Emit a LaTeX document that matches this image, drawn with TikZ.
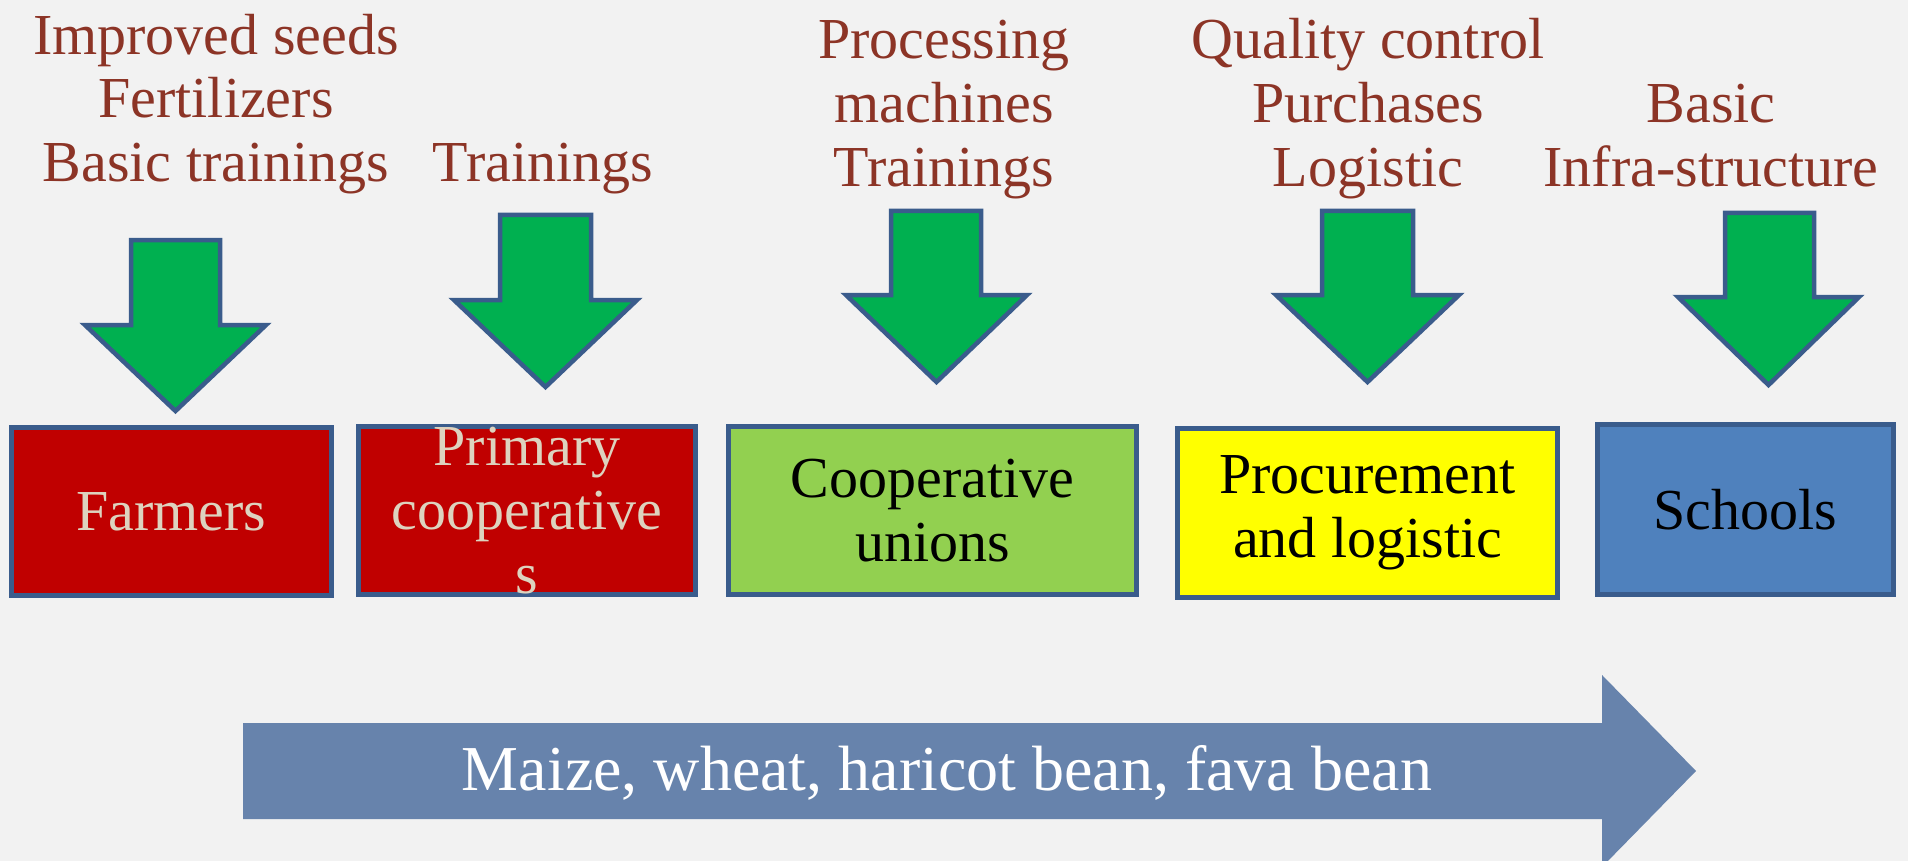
\documentclass[tikz,border=0pt]{standalone}
\usepackage{fontspec}
\setmainfont{Liberation Serif}
\definecolor{bg}{HTML}{F2F2F2}
\definecolor{brown}{HTML}{8C3426}
\definecolor{garrow}{HTML}{00B050}
\definecolor{edge}{HTML}{3A5C8C}
\definecolor{redbox}{HTML}{C00000}
\definecolor{beige}{HTML}{DDD3BF}
\definecolor{limebox}{HTML}{92D050}
\definecolor{yelbox}{HTML}{FFFF00}
\definecolor{bluebox}{HTML}{4F81BD}
\definecolor{flowblue}{HTML}{6783AC}
\newcommand\bigfont{\fontsize{58}{64}\selectfont}
\newcommand\flowfont{\fontsize{64}{70}\selectfont}
\newcommand\garrowpath[7]{% shaftL shaftR headL headR top shoulder tip
  \draw[greenarrow] (#1,#5) -- (#2,#5) -- (#2,#6) -- (#4,#6) -- ({(#3+#4)/2},#7) -- (#3,#6) -- (#1,#6) -- cycle;}
\tikzset{
  greenarrow/.style={fill=garrow,draw=edge,line width=4.5pt,line join=miter},
  stagebox/.style={draw=edge,line width=5pt,rectangle,inner sep=0pt,align=center,font=\bigfont},
  inputline/.style={anchor=base,inner sep=0pt,text=brown,font=\bigfont},
}
\begin{document}
\begin{tikzpicture}[x=1pt,y=-1pt]
\fill[bg] (0,0) rectangle (1908,861);
\useasboundingbox (0,0) rectangle (1908,861);
% input labels
\node[inputline] (l1a) at (216,55) {Improved seeds};
\node[inputline] (l1b) at (216,118) {Fertilizers};
\node[inputline] (l1c) at (216,182) {Basic trainings};
\node[inputline] (l2a) at (543,182) {Trainings};
\node[inputline] (l3a) at (944,59) {Processing};
\node[inputline] (l3b) at (944,123) {machines};
\node[inputline] (l3c) at (944,187) {Trainings};
\node[inputline] (l4a) at (1368,59) {Quality control};
\node[inputline] (l4b) at (1368,123) {Purchases};
\node[inputline] (l4c) at (1368,187) {Logistic};
\node[inputline] (l5a) at (1711,123) {Basic};
\node[inputline] (l5b) at (1711,187) {Infra-structure};
% green arrows
\garrowpath{131}{220}{85}{266}{240}{325}{411}
\garrowpath{500}{591}{454}{637}{215}{300}{387}
\garrowpath{891}{981}{846}{1027}{211}{295}{382}
\garrowpath{1322}{1413}{1276}{1459}{211}{295}{382}
\garrowpath{1725}{1814}{1678}{1859}{213}{297}{385}
% stage boxes
\node[stagebox,fill=redbox,text=beige,minimum width=320pt,minimum height=168pt] (farmers) at (171.5,511.5) {Farmers};
\node[stagebox,fill=redbox,text=beige,minimum width=337pt,minimum height=168pt] (primary) at (527,510.5) {Primary\\cooperative\\s};
\node[stagebox,fill=limebox,text=black,minimum width=408pt,minimum height=168pt] (unions) at (932.5,510.5) {Cooperative\\unions};
\node[stagebox,fill=yelbox,text=black,minimum width=380pt,minimum height=169pt] (procure) at (1367.5,513) {Procurement\\and logistic};
\node[stagebox,fill=bluebox,text=black,minimum width=296pt,minimum height=170pt] (schools) at (1745.5,509.5) {Schools};
% flow arrow
\fill[flowblue] (243,723) -- (1602,723) -- (1602,675) -- (1696,771) -- (1602,867) -- (1602,819) -- (243,819) -- cycle;
\node[anchor=base,inner sep=0pt,text=white,font=\flowfont] (crops) at (947,790) {Maize, wheat, haricot bean, fava bean};
\end{tikzpicture}
\end{document}
